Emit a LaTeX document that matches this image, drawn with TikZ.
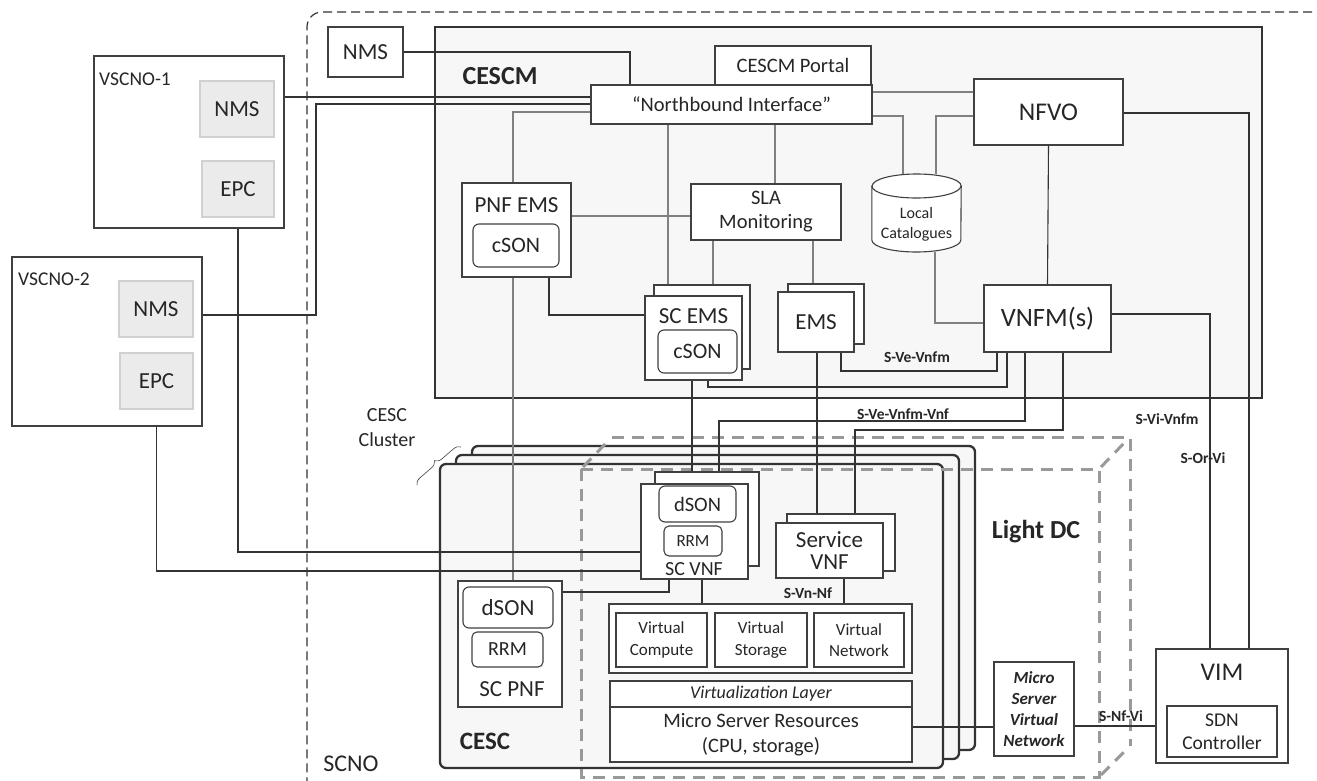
\documentclass[tikz,border=0pt]{standalone}
\usepackage{fontspec}
\setmainfont{Carlito}
\usetikzlibrary{calc,decorations.pathreplacing}
\pgfdeclarelayer{bg}
\pgfdeclarelayer{conn}
\pgfsetlayers{bg,conn,main}
\definecolor{lc}{HTML}{404040}
\definecolor{lcd}{HTML}{333333}
\definecolor{tc}{HTML}{262626}
\definecolor{gl}{HTML}{808080}
\definecolor{gfill}{HTML}{EBEBEB}
\definecolor{gedge}{HTML}{D0D0D0}
\definecolor{cfill}{HTML}{F7F7F7}
\definecolor{dashc}{HTML}{999999}
\newcommand{\fz}[2]{\fontsize{#1pt}{#2pt}\selectfont}
\begin{document}
\begin{tikzpicture}[x=1pt,y=-1pt,
  box/.style={draw=lc, line width=1.1pt, fill=white, inner sep=0pt, align=center, text=tc},
  gbox/.style={box, draw=gedge, fill=gfill},
  rbox/.style={box, rounded corners=6pt},
  txt/.style={inner sep=0pt, align=center, text=tc},
  conn/.style={draw=lcd, line width=1.1pt},
  gconn/.style={draw=gl, line width=1.1pt},
  lab/.style={txt, font=\bfseries\fz{15.5}{18}},
  cescbox/.style={draw=lcd, line width=2.3pt, fill=cfill, rounded corners=6pt, inner sep=0pt, minimum width=503pt, minimum height=304pt},
  cube/.style={draw=dashc, line width=3pt, dash pattern=on 12pt off 8pt},
]
\useasboundingbox (0,0) rectangle (1317,781);

% ---------- background containers ----------
\begin{pgfonlayer}{bg}
\fill[white] (0,0) rectangle (1317,781);
\draw[draw=lcd, line width=1.2pt, dash pattern=on 9pt off 5pt, rounded corners=15pt] (1340,12) -- (307,12) -- (307,800);
\node[draw=lcd, line width=2.4pt, fill=cfill, inner sep=0pt, minimum width=827pt, minimum height=371pt] (cescm) at (848.5,212.5) {};
\node[cescbox] (cesc3) at (723.5,598) {};
\node[cescbox] (cesc2) at (707.5,607) {};
\node[cescbox] (cesc1) at (691.5,616) {};
\draw[cube] (581,469) rectangle (1099,777);
\draw[cube] (612,437) -- (1130,437) -- (1130,746);
\draw[cube] (583,467) -- (610,439);
\draw[cube] (1101,467) -- (1128,439);
\draw[cube] (1101,775) -- (1128,748);
\end{pgfonlayer}

% ---------- free texts ----------
\node[txt, font=\bfseries\fz{26}{30}] (cescmt) at (500,76) {CESCM};
\node[txt, font=\bfseries\fz{25}{29}] (cesct) at (485,741) {CESC};
\node[txt, font=\bfseries\fz{26}{30}] (lightdc) at (1036,532) {Light DC};
\node[txt, font=\fz{24}{28}] (scno) at (351,764) {SCNO};
\node[txt, font=\fz{20}{25}] (cluster) at (387,428) {CESC\\Cluster};
\draw[decorate, decoration={brace, amplitude=7pt}, draw=lc, line width=0.6pt] (417,485) -- (461,447);

% ---------- VSCNOs ----------
\node[box, minimum width=190pt, minimum height=172pt] (vs1) at (189,142) {};
\node[txt, anchor=west, font=\fz{19.5}{23}] (vs1t) at (99,79) {VSCNO-1};
\node[gbox, minimum width=74pt, minimum height=56pt, font=\fz{23}{27}] (nms1) at (237,109) {NMS};
\node[gbox, minimum width=72pt, minimum height=56pt, font=\fz{23}{27}] (epc1) at (238,189) {EPC};
\node[box, minimum width=190pt, minimum height=169pt] (vs2) at (107,341.5) {};
\node[txt, anchor=west, font=\fz{19.5}{23}] (vs2t) at (18,279) {VSCNO-2};
\node[gbox, minimum width=74pt, minimum height=56pt, font=\fz{23}{27}] (nms2) at (156,309) {NMS};
\node[gbox, minimum width=73pt, minimum height=56pt, font=\fz{23}{27}] (epc2) at (156.5,381) {EPC};
\node[box, minimum width=75pt, minimum height=50pt, font=\fz{23}{27}] (nmst) at (365.5,52) {NMS};

% ---------- CESCM ----------
\node[box, minimum width=156pt, minimum height=39pt, font=\fz{20.5}{24}] (portal) at (793,65.5) {CESCM Portal};
\node[box, minimum width=281pt, minimum height=39pt, font=\fz{20.5}{24}] (nb) at (731.5,104.5) {“Northbound Interface”};
\node[box, minimum width=149pt, minimum height=66pt, font=\fz{25.5}{30}] (nfvo) at (1048.5,112) {NFVO};
\node[inner sep=0pt, minimum width=89pt, minimum height=78pt] (cat) at (916.5,213) {};
\draw[draw=lc, line width=1.1pt, fill=white] (cat.west |- 0,186) -- (cat.west |- 0,240) arc (180:360:44.5pt and 12pt) -- (cat.east |- 0,186) arc (0:180:44.5pt and 12pt) -- cycle;
\draw[draw=lc, line width=1.1pt] (cat.west |- 0,186) arc (180:360:44.5pt and 12pt);
\node[txt, font=\fz{16}{20}] (catt) at (916.5,224) {Local\\Catalogues};
\node[box, minimum width=127pt, minimum height=67pt, font=\fz{26.5}{30}] (vnfm) at (1047.5,318.5) {VNFM(s)};
\node[box, minimum width=109pt, minimum height=94pt] (pnfems) at (516.5,230) {};
\node[txt, font=\fz{23}{27}] (pnfemst) at (516.5,205) {PNF EMS};
\node[rbox, minimum width=86pt, minimum height=43pt, font=\fz{22}{26}] (cson1) at (516,245.5) {cSON};
\node[box, minimum width=150pt, minimum height=56pt, font=\fz{20.5}{24}] (sla) at (766,212) {SLA\\Monitoring};
\node[box, minimum width=96pt, minimum height=84pt] (scemsb) at (702,327) {};
\node[box, minimum width=97pt, minimum height=84pt] (scems) at (693.5,338) {};
\node[txt, font=\fz{23}{27}] (scemst) at (693.5,316) {SC EMS};
\node[rbox, minimum width=79pt, minimum height=43pt, font=\fz{22}{26}] (cson2) at (697.5,351.5) {cSON};
\node[box, minimum width=76pt, minimum height=60pt] (emsb) at (826,314) {};
\node[box, minimum width=76pt, minimum height=60pt, font=\fz{23}{27}] (ems) at (816,322) {EMS};

% ---------- CESC ----------
\node[box, minimum width=104pt, minimum height=94pt] (scvnfb) at (707,519) {};
\node[box, minimum width=107pt, minimum height=95pt] (scvnf) at (694.5,531.5) {};
\node[rbox, minimum width=77pt, minimum height=36pt, font=\fz{20.5}{24}] (dson1) at (697.5,504) {dSON};
\node[rbox, rounded corners=5pt, minimum width=58pt, minimum height=30pt, font=\fz{17}{20}] (rrm1) at (693,541) {RRM};
\node[txt, font=\fz{20}{24}] (scvnft) at (694,569) {SC VNF};
\node[box, minimum width=104pt, minimum height=126pt] (scpnf) at (510,644) {};
\node[rbox, minimum width=90pt, minimum height=41pt, font=\fz{23}{27}] (dson2) at (508,607.5) {dSON};
\node[rbox, rounded corners=5pt, minimum width=71pt, minimum height=35pt, font=\fz{20}{24}] (rrm2) at (507.5,649.5) {RRM};
\node[txt, font=\fz{23}{27}] (scpnft) at (512,689) {SC PNF};
\node[box, minimum width=108pt, minimum height=57pt] (svnfb) at (841,542.5) {};
\node[box, minimum width=107pt, minimum height=55pt, font=\fz{23}{22}] (svnf) at (829.5,550.5) {Service\\VNF};
\node[box, minimum width=303pt, minimum height=69pt] (virt) at (760.5,638.5) {};
\node[box, minimum width=91pt, minimum height=54pt, font=\fz{17}{21.5}] (vc) at (661.5,640) {Virtual\\Compute};
\node[box, minimum width=92pt, minimum height=54pt, font=\fz{17}{21.5}] (vsto) at (761,640) {Virtual\\Storage};
\node[box, minimum width=90pt, minimum height=54pt, font=\fz{17}{21.5}] (vnet) at (859,640) {Virtual\\Network};
\node[box, minimum width=302pt, minimum height=26pt, font=\itshape\fz{18}{22}] (vlayer) at (761,694) {Virtualization Layer};
\node[box, minimum width=302pt, minimum height=55pt, font=\fz{20.5}{25}] (msr) at (761,734.5) {Micro Server Resources\\(CPU, storage)};
\node[box, minimum width=80pt, minimum height=94pt, font=\bfseries\itshape\fz{17}{21}] (msvn) at (1034,709) {Micro\\Server\\Virtual\\Network};
\node[box, minimum width=132pt, minimum height=114pt] (vim) at (1222,706) {};
\node[txt, font=\fz{25.5}{30}] (vimt) at (1222,672) {VIM};
\node[box, minimum width=110pt, minimum height=51pt, font=\fz{19.5}{23}] (sdn) at (1222,731.5) {SDN\\Controller};

% ---------- labels ----------
\node[lab] (l1) at (917,357) {S-Ve-Vnfm};
\node[lab] (l2) at (903,414) {S-Ve-Vnfm-Vnf};
\node[lab] (l3) at (1167,419) {S-Vi-Vnfm};
\node[lab] (l4) at (1203,458) {S-Or-Vi};
\node[lab] (l5) at (808,593) {S-Vn-Nf};
\node[lab] (l6) at (1121,716) {S-Nf-Vi};

% ---------- connectors ----------
\begin{pgfonlayer}{conn}
\draw[conn] (nms1.east |- 0,97) -- (nb.west |- 0,97);
\draw[conn] (nms2.east |- 0,315) -| (316,104) -- (nb.west |- 0,104);
\draw[conn] (nmst.east) -| (nb.north -| 630,0);
\draw[gconn] (nb.west |- 0,112) -| (pnfems.north -| 513,0);
\draw[gconn] (nb.south -| 668,0) -- (scems.north -| 668,0);
\draw[gconn] (nb.south -| 775,0) -- (sla.north -| 775,0);
\draw[gconn] (sla.south -| 713,0) -- (scems.north -| 713,0);
\draw[gconn] (sla.south -| 813,0) -- (ems.north -| 813,0);
\draw[gconn] (pnfems.east |- 0,216) -- (sla.west |- 0,216);
\draw[conn] (pnfems.south -| 549,0) |- (scems.west |- 0,315);
\draw[gconn] (pnfems.south -| 513,0) -- (dson2.north -| 513,0);
\draw[gconn] (nb.east |- 0,92) -- (nfvo.west |- 0,92);
\draw[gconn] (nb.east |- 0,116) -| (cat.north -| 903,0);
\draw[gconn] (nfvo.west |- 0,116) -| (cat.north -| 936,0);
\draw[gconn] (cat.south -| 935,0) |- (vnfm.west |- 0,323);
\draw[conn] (nfvo.south) -- (vnfm.north);
\draw[conn] (nfvo.east |- 0,113) -| (vim.north -| 1249,0);
\draw[conn] (vnfm.east |- 0,314) -| (vim.north -| 1210,0);
\draw[conn] (ems.south -| 841,0) -- (841,371) -- (997,371) -- (vnfm.south -| 997,0);
\draw[conn] (scems.south -| 708,0) -- (708,387) -- (1007,387) -- (vnfm.south -| 1007,0);
\draw[conn] (vnfm.south -| 1025,0) -- (1025,421) -- (719,421) -- (dson1.north -| 719,0);
\draw[conn] (vnfm.south -| 1063,0) -- (1063,430) -- (855,430) -- (svnf.north -| 855,0);
\draw[conn] (cson2.south -| 692,0) -- (dson1.north -| 692,0);
\draw[conn] (ems.south -| 817,0) -- (svnfb.north -| 817,0);
\draw[conn] (dson1.south -| 692,0) -- (rrm1.north -| 692,0);
\draw[conn] (epc1.south) |- (scvnf.west |- 0,552);
\draw[conn] (epc2.south) |- (scvnf.west |- 0,571);
\draw[conn] (scvnf.south -| 669,0) |- (dson2.east |- 0,592);
\draw[conn] (scvnf.south -| 702,0) -- (virt.north -| 702,0);
\draw[conn] (svnf.south -| 844,0) -- (virt.north -| 844,0);
\draw[conn] (msr.east |- 0,727) -- (msvn.west |- 0,727);
\draw[conn] (msvn.east |- 0,726) -- (vim.west |- 0,726);
\end{pgfonlayer}
\end{tikzpicture}
\end{document}
